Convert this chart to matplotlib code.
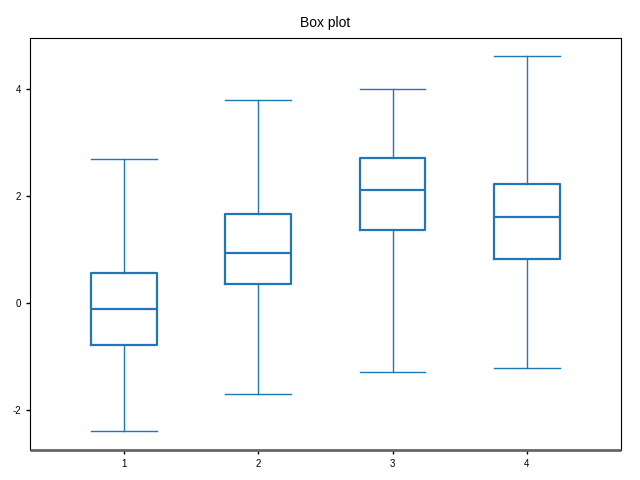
import matplotlib
matplotlib.use("Agg")
import matplotlib.pyplot as plt

plt.rcParams['font.family'] = ['Liberation Sans', 'DejaVu Sans']
plt.rcParams['axes.unicode_minus'] = False

# values
labels = ["1", "2", "3", "4"]
whisker_low = [-2.39, -1.70, -1.29, -1.23]
q1 = [-0.80, 0.34, 1.36, 0.82]
medians = [-0.11, 0.93, 2.11, 1.61]
q3 = [0.56, 1.66, 2.71, 2.22]
whisker_high = [2.69, 3.78, 4.00, 4.62]

color = "#1f77b4"

stats = []
for i in range(len(labels)):
    stats.append({
        "label": labels[i],
        "whislo": whisker_low[i],
        "q1": q1[i],
        "med": medians[i],
        "q3": q3[i],
        "whishi": whisker_high[i],
        "fliers": [],
    })

fig, ax = plt.subplots(figsize=(6.4, 4.8), dpi=100)
fig.subplots_adjust(left=0.047, right=0.970, top=0.921, bottom=0.063)

ax.bxp(stats, widths=0.49, showfliers=False,
       boxprops=dict(color=color, linewidth=1.6),
       medianprops=dict(color=color, linewidth=1.6),
       whiskerprops=dict(color=color, linewidth=1.0),
       capprops=dict(color=color, linewidth=1.0),
       capwidths=0.49)

ax.set_xlim(0.3, 4.7)
ax.set_ylim(-2.75, 4.95)
ax.set_yticks([-2, 0, 2, 4])
ax.tick_params(labelsize=7, length=3, width=1)
ax.spines["bottom"].set_color("#666666")
ax.spines["bottom"].set_linewidth(2)
ax.spines["bottom"].set_capstyle("butt")
ax.set_title("Box plot", fontsize=10, pad=8)

plt.savefig("out.png")
